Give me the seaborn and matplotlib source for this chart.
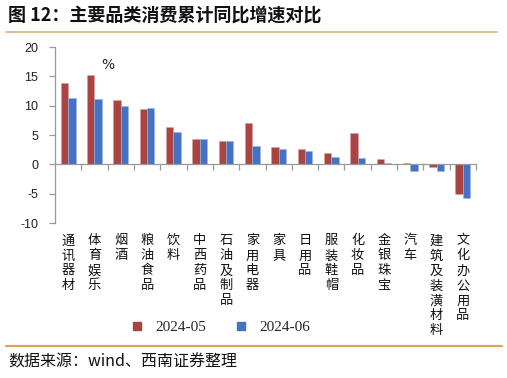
import matplotlib
matplotlib.use("Agg")
import matplotlib.pyplot as plt
import matplotlib.transforms as mtransforms
import seaborn as sns
import pandas as pd
from matplotlib.lines import Line2D

categories = ["通讯器材", "体育娱乐", "烟酒", "粮油食品", "饮料", "中西药品", "石油及制品",
              "家用电器", "家具", "日用品", "服装鞋帽", "化妆品", "金银珠宝", "汽车",
              "建筑及装潢材料", "文化办公用品"]
may_values = [13.9, 15.3, 10.9, 9.4, 6.4, 4.3, 4.0, 7.0, 3.0, 2.6, 1.9, 5.4, 0.9, 0.2, -0.4, -5.0]
jun_values = [11.3, 11.2, 10.0, 9.6, 5.5, 4.3, 4.0, 3.1, 2.6, 2.3, 1.2, 1.0, 0.2, -1.2, -1.2, -5.8]
series_names = ["2024-05", "2024-06"]
yticks = [-10, -5, 0, 5, 10, 15, 20]

df = pd.DataFrame({
    "cat": categories * 2,
    "val": may_values + jun_values,
    "series": [series_names[0]] * len(categories) + [series_names[1]] * len(categories),
})

sns.set_theme(style="white")
plt.rcParams["font.family"] = ["Noto Sans CJK SC", "DejaVu Sans"]

fig = plt.figure(figsize=(5.07, 3.78), dpi=100)
ax = fig.add_axes([55 / 507, 1 - 223 / 378, (476 - 55) / 507, (223 - 47) / 378])

palette = {"2024-05": "#A94442", "2024-06": "#4472C4"}
sns.barplot(data=df, x="cat", y="val", hue="series", palette=palette, width=0.56,
            ax=ax, saturation=1, edgecolor=None, linewidth=0)
for p, c in zip(ax.patches, ["#D9A0A0"] * len(categories) + ["#9DB5E0"] * len(categories)):
    p.set_edgecolor(c)
    p.set_linewidth(0.4)

ax.set_ylim(-10, 20)
ax.set_xlim(-0.5, len(categories) - 0.5)
ax.set_yticks(yticks)
ax.set_yticklabels([str(t) for t in yticks], family="Liberation Sans", fontsize=9, color="#222222")
ax.set_xlabel("")
ax.set_ylabel("")

for s in ["top", "right"]:
    ax.spines[s].set_visible(False)
ax.spines["left"].set_color("#999999")
ax.spines["left"].set_linewidth(0.9)
ax.spines["bottom"].set_position(("data", 0))
ax.spines["bottom"].set_color("#999999")
ax.spines["bottom"].set_linewidth(0.9)
ax.tick_params(axis="y", left=True, length=4, width=0.9, color="#999999", pad=8)
ax.set_xticks([i + 0.5 for i in range(len(categories))], minor=True)
ax.set_xticks([])
ax.tick_params(axis="x", which="minor", bottom=True, length=4, width=0.9, color="#999999")
ax.tick_params(axis="x", which="major", bottom=False, labelbottom=False)

trans = mtransforms.blended_transform_factory(ax.transData, ax.transAxes)
for i, c in enumerate(categories):
    ax.text(i, -0.065, "\n".join(c), transform=trans, ha="center", va="top",
            fontsize=9.5, linespacing=1.2, color="#111111")

ax.text(1.5, 16.9, "%", ha="center", va="center", fontsize=10, family="DejaVu Sans", color="#222222")

ax.legend_.remove()
handles = [Line2D([], [], marker="s", linestyle="none", markersize=5.5, color=palette[n]) for n in series_names]
fig.legend(handles, series_names, loc="center", bbox_to_anchor=(216 / 507, 1 - 327 / 378), ncol=2,
           frameon=False, prop={"family": "Liberation Serif", "size": 11}, handletextpad=0.2,
           columnspacing=1.25, borderaxespad=0)

fig.text(8 / 507, 1 - 15 / 378, "图 12：主要品类消费累计同比增速对比", fontsize=13, fontweight="bold",
         va="center", ha="left", color="#111111")
fig.add_artist(Line2D([6 / 507, 497 / 507], [1 - 32 / 378] * 2, color="#D9B07A", linewidth=1.2))
fig.add_artist(Line2D([6 / 507, 502 / 507], [1 - 345.5 / 378] * 2, color="#D9A45E", linewidth=1.6))
fig.text(8 / 507, 1 - 362 / 378, "数据来源：wind、西南证券整理", fontsize=11.5, style="italic",
         va="center", ha="left", color="#111111")

fig.savefig("out.png", dpi=100)
